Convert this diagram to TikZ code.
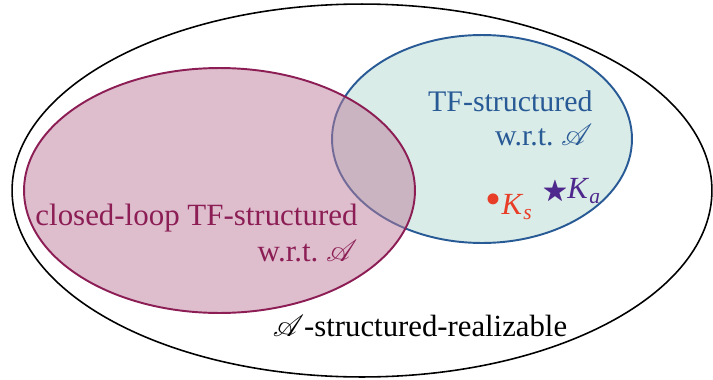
\documentclass[tikz,border=0pt]{standalone}
\usepackage{amssymb}
\usepackage{fontspec}
\usepackage{mathrsfs}
\setmainfont{Liberation Serif}
\usepackage{tikz}
\usetikzlibrary{positioning}

\definecolor{tfblue}{RGB}{40,90,150}
\definecolor{tffill}{RGB}{218,236,232}
\definecolor{clred}{RGB}{140,30,85}
\definecolor{clfill}{RGB}{189,125,155}
\definecolor{ksred}{RGB}{232,62,40}
\definecolor{kapurple}{RGB}{78,40,140}

\tikzset{
  setlabel/.style={inner sep=0pt, align=right},
  ptlabel/.style={inner sep=0pt, font=\fontsize{17.5}{21}\selectfont}
}

\begin{document}
\begin{tikzpicture}[x=0.02cm, y=-0.02cm, semithick]
      \useasboundingbox (0,0) rectangle (713,379);
      % outer set
      \draw [line width=0.9pt] (362,190.5) ellipse (7cm and 3.73cm);
      % TF-structured set
      \fill [tffill] (482,139) ellipse (3cm and 2.08cm);
      \draw [tfblue, line width=1.1pt] (482,139) ellipse (3cm and 2.08cm);
      % closed-loop set
      \fill [clfill, fill opacity=0.5] (219.5,190.5) ellipse (3.91cm and 2.45cm);
      \draw [clred, line width=1.1pt] (219.5,190.5) ellipse (3.91cm and 2.45cm);

      \node [setlabel, text=tfblue, anchor=east, font=\fontsize{17}{19.5}\selectfont] (tf) at (593,118) {TF-structured\\w.r.t.\ $\mathscr{A}$};
      \node [setlabel, text=clred, anchor=east, font=\fontsize{17.6}{20}\selectfont] (cl) at (358,233) {closed-loop TF-structured\\w.r.t.\ $\mathscr{A}$};
      \node [ptlabel] (real) at (420,326) {$\mathscr{A}$-structured-realizable};

      \node [ptlabel, text=ksred, anchor=west] (ks) at (485,207) {{\fontsize{26}{26}\selectfont\textbullet}\textit{K}\textsubscript{\textit{s}}};
      \node [ptlabel, text=kapurple, anchor=west] (ka) at (542,191) {{\fontsize{15}{15}\selectfont$\bigstar$}\textit{K}\textsubscript{\textit{a}}};
\end{tikzpicture}
\end{document}
